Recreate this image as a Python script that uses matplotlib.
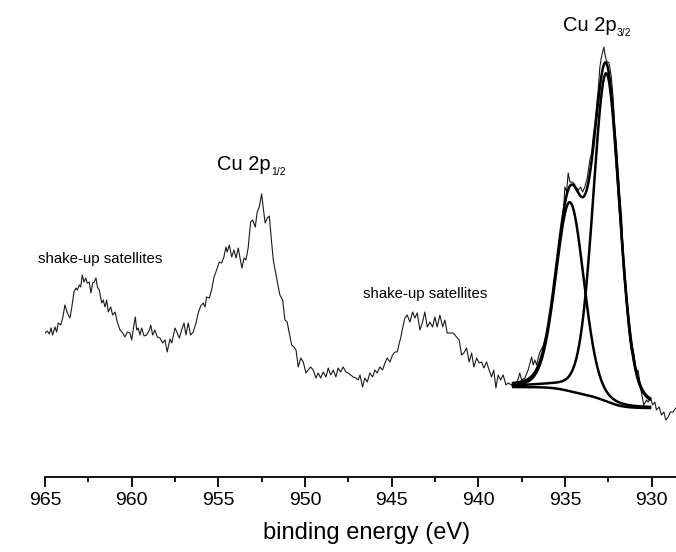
import numpy as np
import matplotlib
matplotlib.use('Agg')
import matplotlib.pyplot as plt
from matplotlib.ticker import MultipleLocator

plt.rcParams['font.family'] = ['Liberation Sans', 'DejaVu Sans']

energy = [965.00, 964.87, 964.75, 964.65, 964.56, 964.42, 964.33, 964.23, 964.09, 963.98,
          963.85, 963.71, 963.56, 963.46, 963.33, 963.21, 963.14, 963.02, 962.94, 962.85,
          962.75, 962.65, 962.56, 962.45, 962.35, 962.25, 962.16, 962.06, 961.98, 961.87,
          961.73, 961.64, 961.54, 961.44, 961.35, 961.21, 961.10, 960.96, 960.83, 960.67,
          960.52, 960.39, 960.25, 960.10, 960.00, 959.87, 959.79, 959.71, 959.62, 959.52,
          959.42, 959.29, 959.14, 958.98, 958.90, 958.79, 958.66, 958.52, 958.37, 958.21,
          958.08, 957.95, 957.79, 957.69, 957.50, 957.37, 957.25, 957.12, 956.98, 956.87,
          956.74, 956.60, 956.45, 956.29, 956.16, 956.02, 955.87, 955.77, 955.68, 955.52,
          955.39, 955.25, 955.10, 954.95, 954.81, 954.68, 954.56, 954.49, 954.37, 954.23,
          954.10, 953.98, 953.85, 953.75, 953.64, 953.52, 953.41, 953.28, 953.14, 953.02,
          952.87, 952.76, 952.64, 952.50, 952.41, 952.30, 952.18, 952.06, 951.93, 951.83,
          951.64, 951.45, 951.29, 951.16, 951.03, 950.91, 950.77, 950.64, 950.52, 950.39,
          950.25, 950.10, 949.95, 949.82, 949.68, 949.53, 949.37, 949.24, 949.10, 948.95,
          948.79, 948.66, 948.52, 948.37, 948.22, 948.09, 947.95, 947.80, 947.64, 947.51,
          947.37, 947.22, 947.06, 946.93, 946.83, 946.68, 946.55, 946.41, 946.26, 946.10,
          945.97, 945.84, 945.68, 945.53, 945.39, 945.26, 945.10, 944.95, 944.82, 944.68,
          944.56, 944.47, 944.37, 944.24, 944.11, 943.95, 943.79, 943.66, 943.53, 943.37,
          943.22, 943.09, 942.95, 942.80, 942.64, 942.51, 942.38, 942.22, 942.06, 941.93,
          941.80, 941.64, 941.45, 941.26, 941.11, 940.97, 940.84, 940.68, 940.53, 940.39,
          940.26, 940.10, 939.95, 939.82, 939.68, 939.53, 939.38, 939.24, 939.11, 938.99,
          938.86, 938.72, 938.57, 938.41, 938.28, 938.09, 937.90, 937.78, 937.61, 937.51,
          937.32, 937.13, 936.93, 936.84, 936.74, 936.64, 936.55, 936.45, 936.26, 936.07,
          935.88, 935.69, 935.49, 935.30, 935.18, 935.07, 935.01, 934.91, 934.82, 934.72,
          934.57, 934.46, 934.38, 934.24, 934.10, 933.99, 933.86, 933.72, 933.57, 933.47,
          933.38, 933.28, 933.09, 932.99, 932.90, 932.76, 932.69, 932.61, 932.46, 932.33,
          932.23, 932.13, 932.03, 931.94, 931.84, 931.74, 931.65, 931.55, 931.46, 931.36,
          931.26, 931.16, 931.07, 930.88, 930.79, 930.59, 930.46, 930.30, 930.21, 930.07,
          929.95, 929.82, 929.73, 929.57, 929.44, 929.30, 929.19, 929.05, 928.92, 928.77,
          928.61]
counts = [144, 146, 143, 149, 142, 150, 145, 154, 152, 159,
          172, 164, 159, 169, 185, 189, 187, 192, 190, 202,
          195, 199, 194, 195, 184, 194, 195, 199, 190, 187,
          174, 177, 170, 177, 165, 170, 162, 165, 155, 147,
          144, 140, 145, 144, 137, 152, 160, 147, 149, 142,
          149, 141, 142, 147, 152, 142, 147, 140, 139, 134,
          137, 125, 138, 134, 149, 144, 139, 147, 154, 142,
          154, 142, 145, 154, 164, 171, 174, 170, 180, 179,
          187, 200, 207, 215, 214, 220, 230, 225, 232, 220,
          227, 219, 229, 219, 209, 219, 217, 229, 255, 257,
          250, 265, 270, 283, 269, 254, 259, 261, 235, 217,
          199, 182, 177, 157, 155, 144, 132, 130, 127, 110,
          119, 115, 104, 107, 110, 107, 99, 104, 99, 105,
          100, 109, 102, 107, 100, 109, 105, 110, 105, 104,
          102, 100, 99, 97, 102, 90, 99, 95, 104, 100,
          107, 104, 110, 107, 114, 119, 115, 122, 125, 125,
          134, 140, 149, 159, 162, 155, 165, 159, 164, 147,
          155, 165, 150, 155, 150, 160, 150, 162, 150, 157,
          144, 144, 144, 140, 137, 122, 124, 129, 115, 124,
          110, 119, 114, 115, 109, 115, 107, 100, 107, 89,
          102, 97, 102, 92, 94, 92, 90, 94, 104, 97,
          99, 107, 120, 112, 117, 112, 119, 125, 131, 143,
          161, 180, 207, 238, 255, 272, 290, 285, 304, 295,
          295, 293, 290, 287, 290, 285, 290, 299, 317, 324,
          340, 354, 387, 410, 420, 430, 422, 416, 414, 400,
          380, 350, 330, 307, 282, 260, 224, 200, 174, 152,
          136, 124, 128, 104, 107, 84, 72, 77, 75, 79,
          72, 75, 67, 70, 62, 65, 57, 60, 65, 65,
          69]

# peak fit of Cu 2p3/2: two components on a Shirley-type background
peak_centers = [932.62, 934.72]
peak_heights = [328, 189]
peak_fwhm = [1.8, 1.9]
peak_lorentz = [0.2, 0.15]
fit_range = [938.0, 930.1]
bg_ends = [90, 69]


def gauss_lorentz(x, c, h, w, m):
    t = 4 * (x - c) ** 2 / w ** 2
    return h * ((1 - m) * np.exp(-np.log(2) * t) + m / (1 + t))


e_fit = np.linspace(fit_range[0], fit_range[1], 400)
peaks = [gauss_lorentz(e_fit, c, h, w, m)
         for c, h, w, m in zip(peak_centers, peak_heights, peak_fwhm, peak_lorentz)]
total = np.sum(peaks, axis=0)
cum = np.cumsum(total[::-1])[::-1]
bg = bg_ends[1] + (bg_ends[0] - bg_ends[1]) * cum / cum[0]

fig = plt.figure(figsize=(6.76, 5.52), dpi=100)
ax = fig.add_axes([45 / 676, 1 - 477 / 552, 1 - 45 / 676, 477 / 552])

ax.plot(energy, counts, color='#1a1a1a', lw=0.8)
ax.plot(e_fit, bg, color='black', lw=1.8)
for p in peaks:
    ax.plot(e_fit, bg + p, color='black', lw=1.8)
ax.plot(e_fit, bg + total, color='black', lw=1.8)

ax.set_xlim(965, 928.6)
ax.set_ylim(0, 477)

for side in ['left', 'right', 'top']:
    ax.spines[side].set_visible(False)
ax.spines['bottom'].set_linewidth(1.3)
ax.set_yticks([])
ax.xaxis.set_major_locator(MultipleLocator(5))
ax.xaxis.set_minor_locator(MultipleLocator(2.5))
ax.tick_params(axis='x', which='major', direction='out', length=7, width=1.3,
               labelsize=14, pad=4)
ax.tick_params(axis='x', which='minor', direction='out', length=3.6, width=1.3)

ax.set_xlabel('binding energy (eV)', fontsize=17)
ax.xaxis.set_label_coords(0.509, -0.094)

# peak labels
t1 = ax.text(955.08, 307, 'Cu 2p', fontsize=14.5, ha='left', va='baseline')
ax.annotate('1/2', xy=(1, 0), xycoords=t1, xytext=(0.5, 1.5), textcoords='offset points',
            fontsize=7.5, ha='left', va='center')
t2 = ax.text(935.13, 446, 'Cu 2p', fontsize=14.5, ha='left', va='baseline')
ax.annotate('3/2', xy=(1, 0), xycoords=t2, xytext=(0.5, 1.5), textcoords='offset points',
            fontsize=7.5, ha='left', va='center')

ax.text(961.83, 218, 'shake-up satellites', fontsize=10.8, ha='center', va='center')
ax.text(943.09, 183, 'shake-up satellites', fontsize=10.8, ha='center', va='center')

fig.savefig('out.png', dpi=100)
